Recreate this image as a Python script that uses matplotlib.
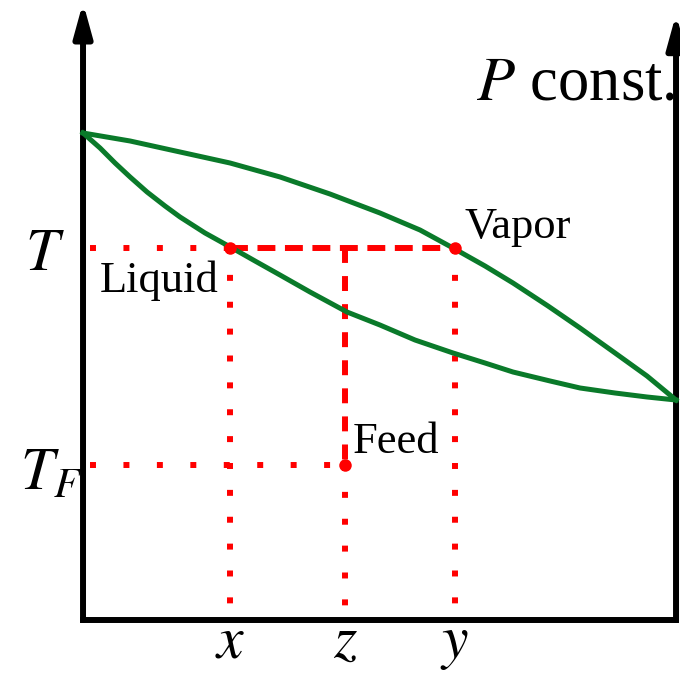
import matplotlib
matplotlib.use('Agg')
import matplotlib.pyplot as plt

plt.rcParams['font.family'] = ['Liberation Serif', 'DejaVu Serif']
plt.rcParams['mathtext.fontset'] = 'stix'

# Curva de vapor (orvalho): fração molar x temperatura
x_vapor = [0.0, 0.0793, 0.1636, 0.2479, 0.3322, 0.4165, 0.5008, 0.5683, 0.6239,
           0.6779, 0.7251, 0.7841, 0.8381, 0.8971, 0.9511, 1.0]
T_vapor = [1.0, 0.9836, 0.9610, 0.9384, 0.9097, 0.8747, 0.8357, 0.8008, 0.7639,
           0.7269, 0.6920, 0.6448, 0.5996, 0.5483, 0.5010, 0.4517]

# Curva de líquido (bolha)
x_liquido = [0.0, 0.0287, 0.0540, 0.0793, 0.1079, 0.1383, 0.1636, 0.2057, 0.2513,
             0.2900, 0.3322, 0.3828, 0.4452, 0.5008, 0.5599, 0.6239, 0.6779, 0.7251,
             0.7875, 0.8381, 0.8971, 0.9511, 1.0]
T_liquido = [1.0, 0.9692, 0.9384, 0.9097, 0.8789, 0.8501, 0.8275, 0.7947, 0.7639,
             0.7372, 0.7084, 0.6735, 0.6324, 0.6057, 0.5749, 0.5483, 0.5277, 0.5092,
             0.4908, 0.4764, 0.4661, 0.4579, 0.4517]

# Pontos de operação
x_liq = 0.248
y_vap = 0.627
z_feed = 0.442
T_op = 0.764
T_feed = 0.318

VERDE = '#0a7a2a'
VERMELHO = '#ff0000'

fig = plt.figure(figsize=(6.8, 6.74), dpi=100)
ax = fig.add_axes([0, 0, 1, 1])
ax.set_xlim(-0.140, 1.0067)
ax.set_ylim(-0.1109, 1.2731)
ax.axis('off')

# --- eixos com setas ---
seta = dict(arrowstyle='-|>,head_length=20,head_width=5.5', lw=4.3, color='black',
            shrinkA=0, shrinkB=0, mutation_scale=1)
ax.annotate('', xy=(0, 1.268), xytext=(0, 0), arrowprops=seta)
ax.annotate('', xy=(1.0, 1.244), xytext=(1.0, 0), arrowprops=seta)
ax.plot([0, 1.0], [0, 0], color='black', lw=4.3, solid_capstyle='projecting')

# --- curvas ---
ax.plot(x_vapor, T_vapor, color=VERDE, lw=3.6, solid_joinstyle='round', zorder=3)
ax.plot(x_liquido, T_liquido, color=VERDE, lw=3.6, solid_joinstyle='round', zorder=3)

# --- linhas auxiliares vermelhas ---
lw_r = 4.3
ponto_h = (0, (1, 4.6))
ponto_v = (0, (1, 3.5))
traco_h = (0, (3, 1.6))
traco_v = (0, (2.5, 2.2))
kw = dict(color=VERMELHO, lw=lw_r, dash_capstyle='butt', zorder=2)

ax.plot([0.012, x_liq], [T_op, T_op], linestyle=ponto_h, **kw)
ax.plot([x_liq, y_vap], [T_op, T_op], linestyle=traco_h, **kw)
ax.plot([x_liq, x_liq], [T_op, 0.01], linestyle=ponto_v, **kw)
ax.plot([y_vap, y_vap], [T_op, 0.01], linestyle=ponto_v, **kw)
ax.plot([z_feed, z_feed], [T_op, T_feed], linestyle=traco_v, **kw)
ax.plot([z_feed, z_feed], [T_feed, 0.01], linestyle=ponto_v, **kw)
ax.plot([0.012, z_feed], [T_feed, T_feed], linestyle=ponto_h, **kw)

ax.plot([x_liq, y_vap, z_feed], [T_op, T_op, T_feed], 'o', color=VERMELHO,
        markersize=9, markeredgewidth=0, zorder=4)

# --- textos ---
ax.text(0.663, 1.068, '$P$ const.', fontsize=45, va='baseline', ha='left', zorder=1)
ax.text(0.029, 0.674, 'Liquid', fontsize=32, va='baseline', ha='left')
ax.text(0.644, 0.784, 'Vapor', fontsize=32, va='baseline', ha='left')
ax.text(0.454, 0.343, 'Feed', fontsize=32, va='baseline', ha='left')

ax.text(-0.064, 0.719, '$T$', fontsize=43, va='baseline', ha='center')
ax.text(-0.106, 0.267, '$T_F$', fontsize=43, va='baseline', ha='left')
ax.text(x_liq, -0.076, '$x$', fontsize=43, va='baseline', ha='center')
ax.text(z_feed, -0.076, '$z$', fontsize=43, va='baseline', ha='center')
ax.text(y_vap, -0.076, '$y$', fontsize=43, va='baseline', ha='center')

fig.savefig('out.png', dpi=100)
